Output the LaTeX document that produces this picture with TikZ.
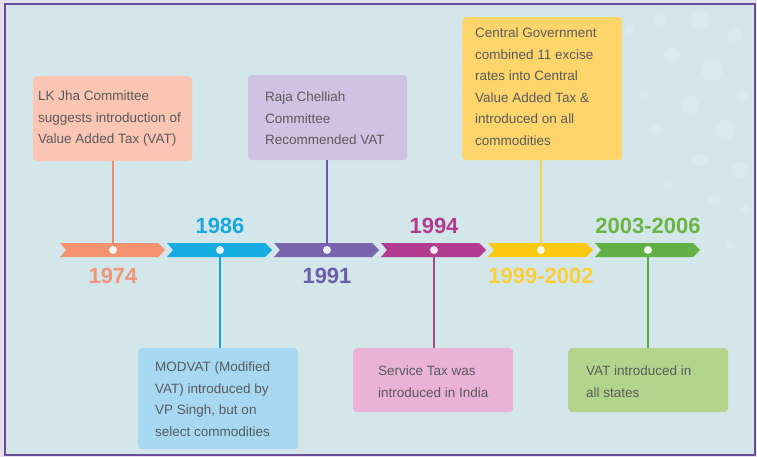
\documentclass[tikz,border=0pt]{standalone}
\usepackage{fontspec}
\setmainfont{Liberation Sans}
\definecolor{outerc}{HTML}{E4E0EE}
\definecolor{bgc}{HTML}{D3E6EA}
\definecolor{framec}{HTML}{6A4C9C}
\definecolor{textgray}{HTML}{5A5A5E}
\definecolor{sA}{HTML}{F4926F}\definecolor{bA}{HTML}{FAC5B2}\definecolor{lA}{HTML}{EF8C6B}\definecolor{yA}{HTML}{F0957A}
\definecolor{sB}{HTML}{17ACE2}\definecolor{bB}{HTML}{A6D8F2}\definecolor{lB}{HTML}{1AA3DB}\definecolor{yB}{HTML}{1AA7DE}
\definecolor{sC}{HTML}{7A63AE}\definecolor{bC}{HTML}{CFC2E3}\definecolor{lC}{HTML}{6C5AA7}\definecolor{yC}{HTML}{6A5CA6}
\definecolor{sD}{HTML}{B03B8F}\definecolor{bD}{HTML}{E9B2D6}\definecolor{lD}{HTML}{A6478A}\definecolor{yD}{HTML}{B03A8E}
\definecolor{sE}{HTML}{FCC811}\definecolor{bE}{HTML}{FDD56B}\definecolor{lE}{HTML}{F7D04A}\definecolor{yE}{HTML}{F9CF3C}
\definecolor{sF}{HTML}{63B146}\definecolor{bF}{HTML}{B3D58B}\definecolor{lF}{HTML}{5DA83F}\definecolor{yF}{HTML}{6AB544}
\begin{document}
\begin{tikzpicture}[x=1pt,y=-1pt,
  infobox/.style={rectangle, rounded corners=4pt, inner sep=0pt, anchor=north west, draw=none},
  infotxt/.style={anchor=north west, inner sep=0pt, align=left, text=textgray, font=\fontsize{13.5}{21.5}\selectfont},
  yearlbl/.style={font=\bfseries\fontsize{22}{24}\selectfont, inner sep=0pt},
  tdot/.style={circle, fill=white, fill opacity=0.9, minimum size=8pt, inner sep=0pt},
  conn/.style={line width=2pt},
  bokeh/.style={fill=white, opacity=0.14}]
\useasboundingbox (0,0) rectangle (757,457);
\fill[outerc] (0,0) rectangle (757,457);
\draw[fill=bgc, draw=framec, line width=2.5pt] (5,4) rectangle (755,455);
% decorative bokeh
\foreach \bx/\by/\br in {700/20/9,735/35/7,672/55/8,712/70/11,742/95/6,690/105/9,655/130/6,725/130/10,700/160/7,740/170/8,668/185/5,715/200/6,645/95/5,745/210/5,680/225/4,630/30/5,660/20/6,730/245/4}
  {\fill[bokeh] (\bx,\by) circle (\br pt);}
% timeline segments
\foreach \i/\c in {0/sA,1/sB,2/sC,3/sD,4/sE,5/sF}{
  \pgfmathsetmacro{\xa}{60+107*\i}
  \pgfmathsetmacro{\xb}{\xa+105}
  \fill[\c] (\xa,243) -- ({\xb-7},243) -- (\xb,250) -- ({\xb-7},257) -- (\xa,257) -- ({\xa+6},250) -- cycle;
}
% dots
\node[tdot] (d1) at (113,250) {};
\node[tdot] (d2) at (220,250) {};
\node[tdot] (d3) at (327,250) {};
\node[tdot] (d4) at (434,250) {};
\node[tdot] (d5) at (541,250) {};
\node[tdot] (d6) at (648,250) {};
% year labels
\node[yearlbl, text=yA] (y1) at (113,276) {1974};
\node[yearlbl, text=yB] (y2) at (220,226) {1986};
\node[yearlbl, text=yC] (y3) at (327,276) {1991};
\node[yearlbl, text=yD] (y4) at (434,226) {1994};
\node[yearlbl, text=yE] (y5) at (541,276) {1999-2002};
\node[yearlbl, text=yF] (y6) at (648,226) {2003-2006};
% boxes
\node[infobox, fill=bA, minimum width=159pt, minimum height=85pt] (b1) at (33,76) {};
\node[infobox, fill=bC, minimum width=159pt, minimum height=85pt] (b2) at (248,75) {};
\node[infobox, fill=bE, minimum width=160pt, minimum height=143pt] (b3) at (462,17) {};
\node[infobox, fill=bB, minimum width=160pt, minimum height=101pt] (b4) at (138,348) {};
\node[infobox, fill=bD, minimum width=160pt, minimum height=64pt] (b5) at (353,348) {};
\node[infobox, fill=bF, minimum width=160pt, minimum height=64pt] (b6) at (568,348) {};
% box texts
\node[infotxt] (t1) at (38,91) {LK Jha Committee\\suggests introduction of\\Value Added Tax (VAT)};
\node[infotxt] (t2) at (265,92) {Raja Chelliah\\Committee\\Recommended VAT};
\node[infotxt] (t3) at (475,28) {Central Government\\combined 11 excise\\rates into Central\\Value Added Tax \&\\introduced on all\\commodities};
\node[infotxt] (t4) at (155,362) {MODVAT (Modified\\VAT) introduced by\\VP Singh, but on\\select commodities};
\node[infotxt] (t5) at (378,366) {Service Tax was\\introduced in India};
\node[infotxt] (t6) at (586,366) {VAT introduced in\\all states};
% connectors
\draw[conn, lA] (b1.south -| d1) -- (d1.north);
\draw[conn, lC] (b2.south -| d3) -- (d3.north);
\draw[conn, lE] (b3.south -| d5) -- (d5.north);
\draw[conn, lB] (d2.south) -- (b4.north -| d2);
\draw[conn, lD] (d4.south) -- (b5.north -| d4);
\draw[conn, lF] (d6.south) -- (b6.north -| d6);
\end{tikzpicture}
\end{document}
